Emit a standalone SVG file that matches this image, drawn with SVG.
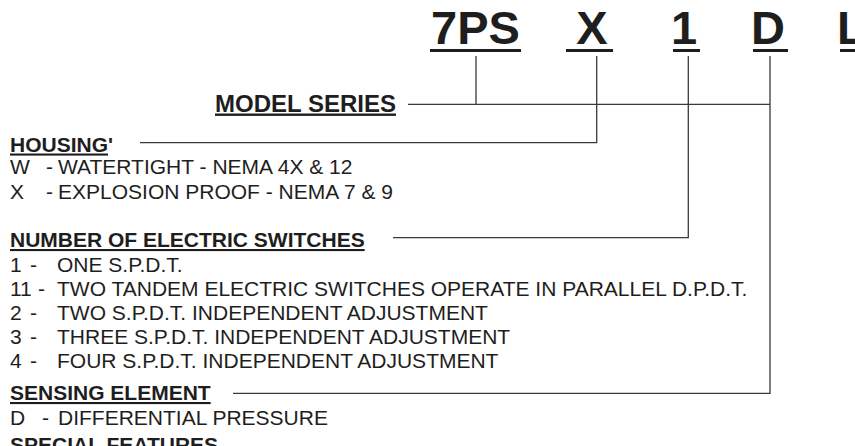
<svg xmlns="http://www.w3.org/2000/svg" width="855" height="446" viewBox="0 0 855 446">
<style>
text{font-family:"Liberation Sans",Arial,Helvetica,sans-serif;fill:#1e1e1e}
.big{font-size:47px;font-weight:bold}
.hd{font-size:21px;font-weight:bold}
.ms{font-size:24px;font-weight:bold}
.u{text-decoration:underline}
.tx{font-size:21px}
.bar{fill:#1e1e1e}
.con{fill:none;stroke:#3a3a3a;stroke-width:1.3}
</style>
<rect width="855" height="446" fill="#fff"/>
<g id="code-7PS"><text class="big" x="431" y="44">7PS</text><rect class="bar" x="430" y="49" width="91" height="3"/></g>
<g id="code-X"><text class="big" x="592" y="44" text-anchor="middle">X</text><rect class="bar" x="566" y="49" width="47" height="3"/></g>
<g id="code-1"><text class="big" x="671" y="44">1</text><rect class="bar" x="673" y="49" width="27" height="3"/></g>
<g id="code-D"><text class="big" x="751" y="44">D</text><rect class="bar" x="753" y="49" width="35" height="3"/></g>
<g id="code-L"><text class="big" x="837" y="44">L</text><rect class="bar" x="840" y="49" width="20" height="3"/></g>
<g id="model-series"><text class="ms u" x="215" y="111.5">MODEL SERIES</text></g>
<g id="housing">
<text class="hd" x="10" y="151.5"><tspan class="u">HOUSING</tspan>'</text>
<text class="tx" y="173.5"><tspan x="10">W</tspan><tspan x="46">-</tspan><tspan x="58">WATERTIGHT - NEMA 4X &amp; 12</tspan></text>
<text class="tx" y="198.5"><tspan x="10">X</tspan><tspan x="46">-</tspan><tspan x="58">EXPLOSION PROOF - NEMA 7 &amp; 9</tspan></text>
</g>
<g id="switches">
<text class="hd u" x="10" y="247">NUMBER OF ELECTRIC SWITCHES</text>
<text class="tx" y="272"><tspan x="10">1</tspan><tspan x="30">-</tspan><tspan x="57">ONE S.P.D.T.</tspan></text>
<text class="tx" y="296"><tspan x="10">11</tspan><tspan x="38">-</tspan><tspan x="57">TWO TANDEM ELECTRIC SWITCHES OPERATE IN PARALLEL D.P.D.T.</tspan></text>
<text class="tx" y="320"><tspan x="10">2</tspan><tspan x="30">-</tspan><tspan x="57">TWO S.P.D.T. INDEPENDENT ADJUSTMENT</tspan></text>
<text class="tx" y="344"><tspan x="10">3</tspan><tspan x="30">-</tspan><tspan x="57">THREE S.P.D.T. INDEPENDENT ADJUSTMENT</tspan></text>
<text class="tx" y="368"><tspan x="10">4</tspan><tspan x="30">-</tspan><tspan x="57">FOUR S.P.D.T. INDEPENDENT ADJUSTMENT</tspan></text>
</g>
<g id="sensing">
<text class="hd u" x="10" y="400">SENSING ELEMENT</text>
<text class="tx" y="425"><tspan x="10">D</tspan><tspan x="42">-</tspan><tspan x="58">DIFFERENTIAL PRESSURE</tspan></text>
</g>
<g id="special"><text class="hd u" x="10" y="452">SPECIAL FEATURES</text></g>
<g id="connectors">
<path class="con" d="M476 56V104.3M408 104.3H770"/>
<path class="con" d="M596.7 56V142.7H140"/>
<path class="con" d="M688.3 56V237.7H393"/>
<path class="con" d="M770 56V393.3H233"/>
</g>
</svg>
